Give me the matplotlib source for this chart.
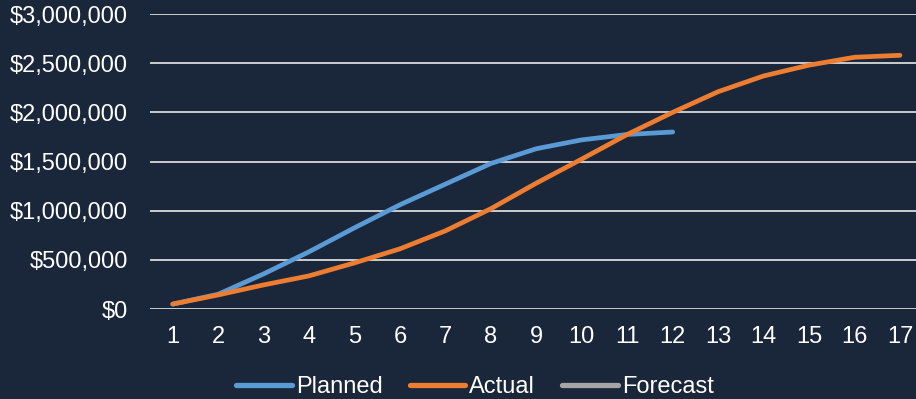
import numpy as np
import matplotlib.pyplot as plt
from matplotlib.ticker import FuncFormatter

periods = list(range(1, 18))
planned = [50000, 150000, 357000, 582000, 826000, 1060000, 1270000, 1480000,
           1630000, 1720000, 1775000, 1800000]
actual = [50000, 143000, 245000, 337000, 469000, 612000, 795000, 1020000,
          1280000, 1525000, 1775000, 2000000, 2210000, 2370000, 2480000,
          2560000, 2580000]
forecast = []

bg = '#1a2639'
plt.rcParams['font.family'] = ['Liberation Sans', 'DejaVu Sans']

fig = plt.figure(figsize=(9.16, 3.99), dpi=100, facecolor=bg)
ax = fig.add_axes([150 / 916, 90 / 399, 772.7 / 916, 295 / 399])
ax.set_facecolor(bg)

ax.plot(periods[:len(planned)], planned, color='#5b9bd5', lw=3.4,
        solid_capstyle='round', label='Planned', zorder=3)
ax.plot(periods[:len(actual)], actual, color='#ed7d31', lw=3.4,
        solid_capstyle='round', label='Actual', zorder=3)
ax.plot(periods[:len(forecast)], forecast, color='#a5a5a5', lw=3.4,
        solid_capstyle='round', label='Forecast', zorder=3)

ax.set_xlim(0.5, 17.5)
ax.set_ylim(0, 3000000)
ax.set_xticks(periods)
ax.set_yticks(np.arange(0, 3000001, 500000))
ax.yaxis.set_major_formatter(FuncFormatter(lambda v, p: '${:,.0f}'.format(v)))
ax.grid(axis='y', color='#d9d9d9', lw=1.3, zorder=1)
ax.set_axisbelow(True)
for s in ax.spines.values():
    s.set_visible(False)
ax.tick_params(length=0, colors='white', labelsize=17)
ax.tick_params(axis='y', pad=16)
ax.tick_params(axis='x', pad=12)

# legend sits close to the bottom edge
leg = fig.legend(loc='center', bbox_to_anchor=(475 / 916, 12 / 399),
                 ncol=3, frameon=False, fontsize=17, handlelength=2.35,
                 handletextpad=0.17, columnspacing=1.15, labelcolor='white',
                 borderpad=0)
for h in leg.get_lines():
    h.set_linewidth(3.8)
    h.set_solid_capstyle('round')

fig.savefig('out.png', dpi=100, facecolor=bg)
